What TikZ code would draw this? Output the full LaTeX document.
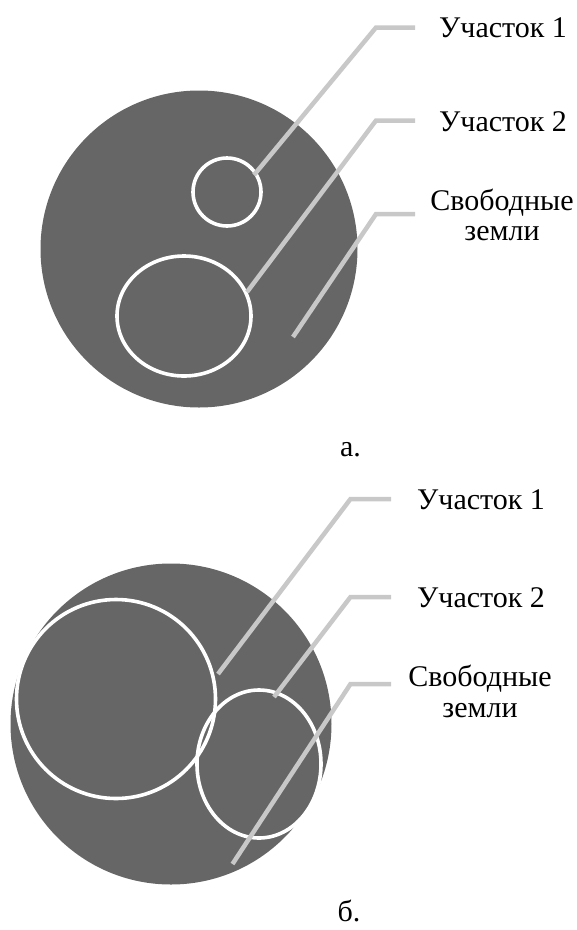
\documentclass[tikz,border=0pt]{standalone}
\usepackage{fontspec}
\setmainfont{Liberation Serif}
\usetikzlibrary{shapes.geometric}
\definecolor{land}{HTML}{666666}
\definecolor{leadc}{HTML}{C8C8C8}
\begin{document}
\begin{tikzpicture}[x=1pt,y=-1pt,
  bigland/.style={circle,fill=land,draw=none,inner sep=0pt},
  parcel/.style={ellipse,draw=white,line width=3.6pt,inner sep=0pt},
  leader/.style={draw=leadc,line width=4.5pt},
  lbl/.style={font=\fontsize{30}{34}\selectfont,inner sep=0pt,anchor=base west},
  lblc/.style={font=\fontsize{30}{34}\selectfont,inner sep=0pt,anchor=base}]
\useasboundingbox (0,0) rectangle (577,930);
% ---- a.
\node[bigland,minimum size=317pt] (A) at (199,249) {};
\node[parcel,minimum width=68pt,minimum height=68pt] (A1) at (227,192) {};
\node[parcel,minimum width=134pt,minimum height=120pt] (A2) at (184,316) {};
\coordinate (a1s) at (254,175); \coordinate (a1k) at (376,27.5); \coordinate (a1e) at (415,27.5);
\coordinate (a2s) at (247,292); \coordinate (a2k) at (376,120.5); \coordinate (a2e) at (415,120.5);
\coordinate (a3s) at (293,337); \coordinate (a3k) at (376,214); \coordinate (a3e) at (415,214);
\draw[leader] (a1s) -- (a1k) -- (a1e);
\draw[leader] (a2s) -- (a2k) -- (a2e);
\draw[leader] (a3s) -- (a3k) -- (a3e);
\node[lbl] (la1) at (439,37) {Участок 1};
\node[lbl] (la2) at (439,131) {Участок 2};
\node[lblc] (la3) at (502,210) {Свободные};
\node[lblc] (la3b) at (502,240) {земли};
\node[lblc] (capa) at (350.5,456) {а.};
% ---- б.
\node[bigland,minimum size=321pt] (B) at (171,724) {};
\node[parcel,minimum width=199pt,minimum height=199pt] (B1) at (116,699) {};
\node[parcel,minimum width=124pt,minimum height=148pt] (B2) at (259,764) {};
\coordinate (b1s) at (218,674); \coordinate (b1k) at (350.5,499); \coordinate (b1e) at (391,499);
\coordinate (b2s) at (274,697); \coordinate (b2k) at (350.5,597); \coordinate (b2e) at (391,597);
\coordinate (b3s) at (232.5,864); \coordinate (b3k) at (350.5,684); \coordinate (b3e) at (391,684);
\draw[leader] (b1s) -- (b1k) -- (b1e);
\draw[leader] (b2s) -- (b2k) -- (b2e);
\draw[leader] (b3s) -- (b3k) -- (b3e);
\node[lbl] (lb1) at (417,509) {Участок 1};
\node[lbl] (lb2) at (417,607) {Участок 2};
\node[lblc] (lb3) at (480,686) {Свободные};
\node[lblc] (lb3b) at (480,717) {земли};
\node[lblc] (capb) at (349,921) {б.};
\end{tikzpicture}
\end{document}
